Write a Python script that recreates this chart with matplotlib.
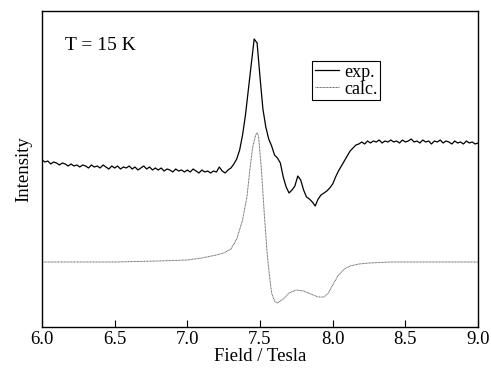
import numpy as np
import matplotlib.pyplot as plt

plt.rcParams['font.family'] = ['Liberation Serif', 'DejaVu Serif']
plt.rcParams['mathtext.fontset'] = 'stix'

# experimental spectrum, field step 0.02 T from 6.0 to 9.0
exp_field = np.round(np.arange(6.0, 9.0001, 0.02), 2)
exp_int = [
    167, 165, 166, 163, 165, 164, 162, 164, 163, 161,
    163, 161, 162, 160, 162, 161, 159, 162, 160, 161,
    159, 162, 160, 158, 161, 159, 161, 158, 160, 159,
    161, 158, 160, 157, 159, 161, 158, 160, 157, 159,
    157, 159, 156, 158, 157, 155, 158, 156, 157, 155,
    157, 155, 158, 156, 154, 157, 155, 156, 154, 156,
    155, 160, 156, 154, 157, 159, 163, 168, 177, 192,
    212, 238, 263, 288, 284, 250, 218, 200, 188, 181,
    172, 169, 164, 150, 140, 134, 137, 141, 151, 147,
    137, 130, 128, 125, 121, 128, 132, 134, 136, 139,
    143, 150, 156, 161, 166, 171, 176, 179, 182, 183,
    185, 183, 186, 184, 186, 185, 187, 184, 186, 185,
    187, 185, 186, 184, 187, 185, 186, 188, 185, 186,
    184, 187, 185, 186, 183, 186, 185, 187, 184, 186,
    185, 183, 186, 184, 185, 183, 186, 184, 185, 183,
    184,
]

# calculated spectrum
calc_field = [6.0, 6.5, 6.8, 7.0, 7.1, 7.2, 7.25, 7.3, 7.34, 7.38, 7.41, 7.43,
              7.45, 7.47, 7.48, 7.49, 7.51, 7.53, 7.55, 7.57, 7.58, 7.6, 7.62,
              7.66, 7.7, 7.75, 7.8, 7.85, 7.9, 7.94, 7.97, 8.0, 8.04, 8.08,
              8.12, 8.18, 8.25, 8.4, 9.0]
calc_int = [65, 65, 66, 67, 69, 72, 74, 78, 88, 107, 130, 157,
            180, 192, 194, 191, 157, 112, 72, 45, 34, 26, 24,
            28, 34, 37, 36, 33, 30, 30, 34, 42, 52, 58,
            61, 63, 64, 65, 65]

fig = plt.figure(figsize=(4.91, 3.69), dpi=100)
ax = fig.add_axes([42 / 491, 42 / 369, 436 / 491, 316 / 369])

ax.plot(exp_field, exp_int, color='black', lw=0.9, label='exp.')
ax.plot(calc_field, calc_int, color='0.4', lw=0.7, ls=(0, (1, 0.5)), label='calc.')

ax.set_xlim(6.0, 9.0)
ax.set_ylim(0, 316)
ax.set_xticks([6.0, 6.5, 7.0, 7.5, 8.0, 8.5, 9.0])
ax.set_xticklabels(['6.0', '6.5', '7.0', '7.5', '8.0', '8.5', '9.0'])
ax.set_yticks([])
ax.tick_params(axis='x', direction='in', length=5, labelsize=13.5, pad=3)
for s in ax.spines.values():
    s.set_linewidth(1.0)

ax.set_xlabel('Field / Tesla', fontsize=13.5, labelpad=0)
ax.set_ylabel('Intensity', fontsize=13.5, labelpad=7)
ax.text(0.052, 0.89, 'T = 15 K', transform=ax.transAxes, fontsize=14, va='center')

leg = ax.legend(loc='upper left', bbox_to_anchor=(0.62, 0.842), fontsize=13,
                frameon=True, fancybox=False, edgecolor='black', framealpha=1,
                handlelength=1.3, handletextpad=0.3, borderpad=0.15,
                labelspacing=0.0, borderaxespad=0)
leg.get_frame().set_linewidth(0.8)

fig.savefig('out.png', dpi=100)
